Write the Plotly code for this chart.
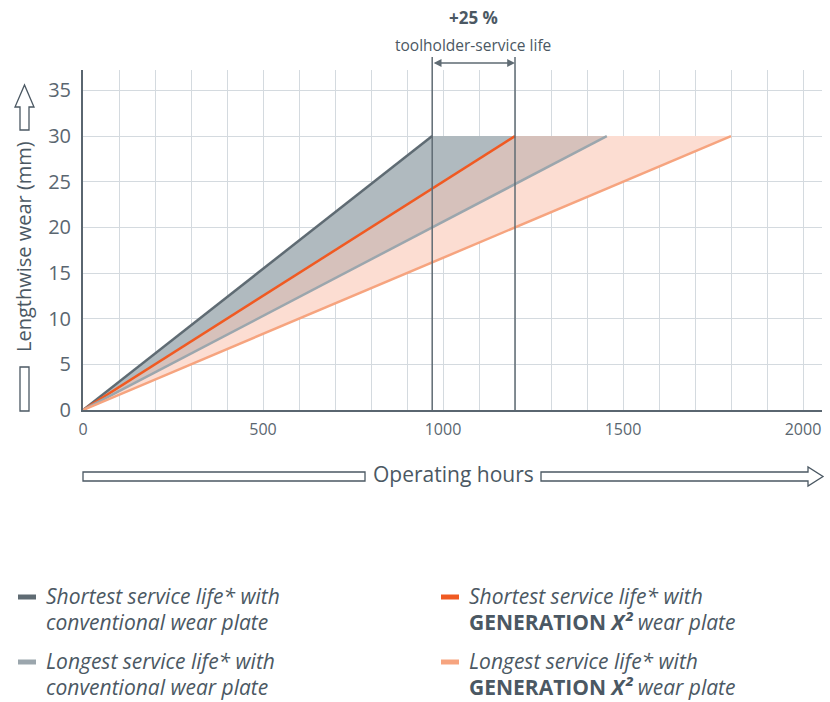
import plotly.graph_objects as go

# ---------------- data ----------------
series_names = [
    "Shortest service life* with conventional wear plate",
    "Shortest service life* with GENERATION X² wear plate",
    "Longest service life* with conventional wear plate",
    "Longest service life* with GENERATION X² wear plate",
]
legend_lines = [
    ("<i>Shortest service life* with</i>", "<i>conventional wear plate</i>"),
    ("<i>Longest service life* with</i>", "<i>conventional wear plate</i>"),
    ("<i>Shortest service life* with</i>", "<b>GENERATION <i>X²</i></b> <i>wear plate</i>"),
    ("<i>Longest service life* with</i>", "<b>GENERATION <i>X²</i></b> <i>wear plate</i>"),
]
hours_start = [0, 0, 0, 0]
hours_end = [970, 1200, 1455, 1800]      # operating hours at 30 mm wear
wear_start = [0, 0, 0, 0]
wear_end = [30, 30, 30, 30]               # mm
gain_text = "+25 %"
gain_sub = "toolholder-service life"
x_ticks = [0, 500, 1000, 1500, 2000]
y_ticks = [0, 5, 10, 15, 20, 25, 30, 35]

# ---------------- styles ----------------
line_colors = ["#5f6b73", "#f05a22", "#9ba6ad", "#f6a47f"]
fill_colors = [None, "rgba(176,186,191,1)", "rgba(214,193,187,1)", "rgba(252,221,210,1)"]
TXT = "#4b5863"
AX = "#5a6670"
GRID = "#d4dadf"
FONT = "Open Sans"

L, R, T, B = 83, 8, 70, 292
W, H = 830, 702
PW, PH = W - L - R, H - T - B


def px(xp):
    return (xp - L) / PW


def py(yp):
    return (H - B - yp) / PH


fig = go.Figure()

for i, name in enumerate(series_names):
    fig.add_trace(go.Scatter(
        x=[hours_start[i], hours_end[i]],
        y=[wear_start[i], wear_end[i]],
        mode="lines",
        name=name,
        line=dict(color=line_colors[i], width=2.5),
        fill=None if i == 0 else "tonexty",
        fillcolor=fill_colors[i],
        showlegend=False,
        hoverinfo="skip",
    ))

shapes = []
annotations = []

# vertical marker lines
for xv in (hours_end[0], hours_end[1]):
    shapes.append(dict(type="line", xref="x", yref="paper", x0=xv, x1=xv,
                       y0=0, y1=py(57), line=dict(color="#5f6b73", width=1.5), layer="above"))

# double arrow between marker lines
annotations.append(dict(xref="x", yref="paper", x=hours_end[1], y=py(63),
                        axref="x", ayref="pixel", ax=hours_end[0], ay=0,
                        text="", showarrow=True, arrowhead=2, arrowsize=1.2,
                        arrowwidth=1.3, arrowcolor="#5f6b73", arrowside="end+start",
                        startarrowhead=2, startarrowsize=1.2))


def label(xp, yp, text, size, **kw):
    d = dict(xref="paper", yref="paper", x=px(xp), y=py(yp), text=text,
             showarrow=False, xanchor="center", yanchor="middle",
             font=dict(size=size, color=TXT, family=FONT))
    d.update(kw)
    annotations.append(d)


label(473, 17, f"<b>{gain_text}</b>", 17)
label(473, 45, gain_sub, 15.5)

# axis titles
label(453, 474, "Operating hours", 21)
label(24, 247, "Lengthwise wear (mm)", 20, textangle=-90)

hollow = dict(color=TXT, width=1.3)


def pth(points):
    return "M " + " L ".join(f"{px(a):.5f},{py(b):.5f}" for a, b in points) + " Z"


# x-axis hollow bar (left) and arrow (right)
shapes.append(dict(type="path", xref="paper", yref="paper", line=hollow,
                   path=pth([(83, 472), (365, 472), (365, 481), (83, 481)])))
shapes.append(dict(type="path", xref="paper", yref="paper", line=hollow,
                   path=pth([(541, 472), (808, 472), (808, 467), (823, 476.5),
                             (808, 486), (808, 481), (541, 481)])))
# y-axis hollow bar (bottom) and arrow (top)
shapes.append(dict(type="path", xref="paper", yref="paper", line=hollow,
                   path=pth([(20, 367), (29, 367), (29, 411), (20, 411)])))
shapes.append(dict(type="path", xref="paper", yref="paper", line=hollow,
                   path=pth([(20, 130), (20, 107), (15, 107), (24.5, 85),
                             (34, 107), (29, 107), (29, 130)])))

# custom legend
legend_pos = [(17, 597), (17, 662), (440, 597), (440, 662)]
legend_colors = [line_colors[0], line_colors[2], line_colors[1], line_colors[3]]
for (lx, ly), col, (l1, l2) in zip(legend_pos, legend_colors, legend_lines):
    shapes.append(dict(type="line", xref="paper", yref="paper",
                       x0=px(lx + 1), x1=px(lx + 19), y0=py(ly), y1=py(ly),
                       line=dict(color=col, width=5)))
    label(lx + 27, ly - 1, l1, 21, xanchor="left", align="left")
    label(lx + 27, ly + 25, l2, 21, xanchor="left", align="left")

fig.update_layout(
    width=W, height=H,
    margin=dict(l=L, r=R, t=T, b=B, pad=0),
    paper_bgcolor="white", plot_bgcolor="white",
    font=dict(family=FONT, color=TXT),
    showlegend=False,
    shapes=shapes,
    annotations=annotations,
    xaxis=dict(range=[0, PW / 0.36], tickvals=x_ticks, ticktext=[str(v) for v in x_ticks],
               showgrid=True, gridcolor=GRID, gridwidth=1,
               minor=dict(dtick=100, showgrid=True, gridcolor=GRID, gridwidth=1),
               showline=True, linecolor=AX, linewidth=2, zeroline=False,
               ticks="", tickfont=dict(size=16, color=AX, family=FONT),
               ticklabelstandoff=4, fixedrange=True),
    yaxis=dict(range=[0, PH / 9.13], tickvals=y_ticks, ticktext=[str(v) for v in y_ticks],
               showgrid=True, gridcolor=GRID, gridwidth=1,
               showline=True, linecolor=AX, linewidth=2, zeroline=False,
               ticks="", tickfont=dict(size=20, color=AX, family=FONT),
               ticklabelstandoff=6, fixedrange=True),
)

fig.write_html("out.html")
